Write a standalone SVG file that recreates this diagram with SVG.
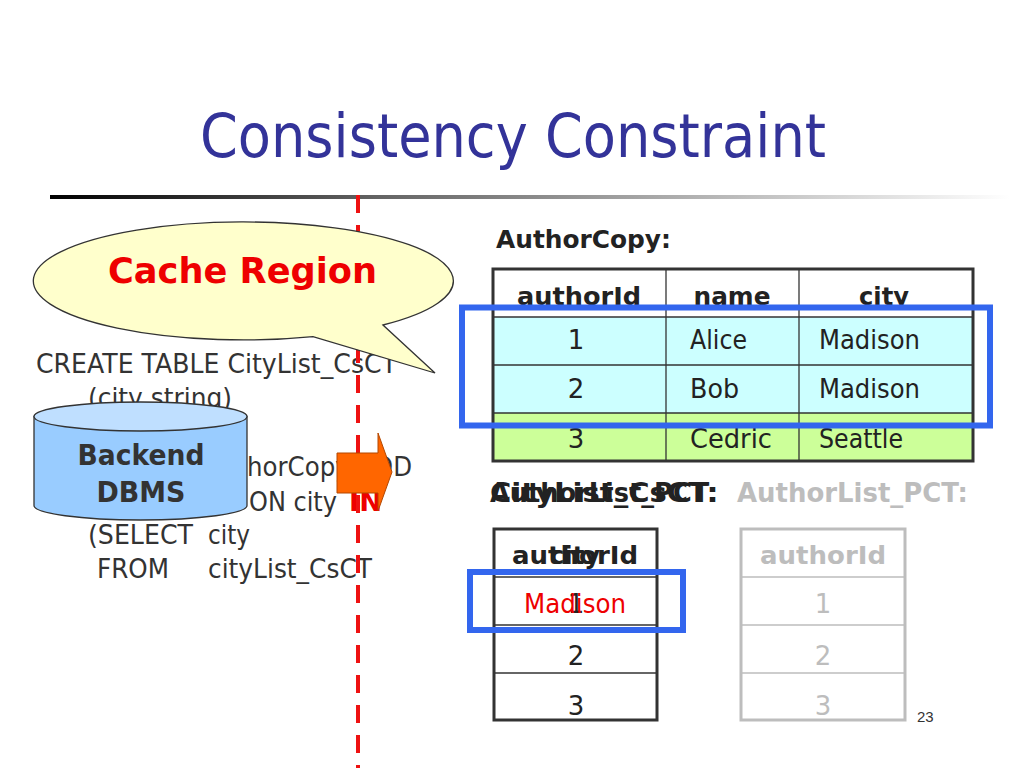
<svg xmlns="http://www.w3.org/2000/svg" width="1024" height="768" viewBox="0 0 1024 768">
<defs>
<linearGradient id="bar" x1="0" y1="0" x2="1" y2="0">
<stop offset="0" stop-color="#000"/>
<stop offset="0.35" stop-color="#666"/>
<stop offset="1" stop-color="#fff"/>
</linearGradient>
<style>
text{font-family:"DejaVu Sans","Liberation Sans",sans-serif;}
.t{font-size:60px;fill:#333399;}
.code{font-size:26px;fill:#333;}
.b{font-weight:bold;}
.hd{font-size:25px;font-weight:bold;fill:#222;text-anchor:middle;}
.cell{font-size:26px;fill:#222;}
.mid{text-anchor:middle;}
.gray{fill:#bdbdbd;}
.outer{fill:none;stroke:#333;stroke-width:3;}
.inner{stroke:#333;stroke-width:1.3;fill:none;}
.gouter{fill:none;stroke:#bdbdbd;stroke-width:3;}
.ginner{stroke:#bdbdbd;stroke-width:1.3;fill:none;}
.sel{fill:none;stroke:#3366ee;stroke-width:6;}
</style>
</defs>
<rect width="1024" height="768" fill="#fff"/>

<g id="title">
<text class="t" x="200" y="157" textLength="626" lengthAdjust="spacingAndGlyphs">Consistency Constraint</text>
<rect x="50" y="195" width="960" height="4" fill="url(#bar)"/>
</g>

<g id="sql-code">
<text class="code" x="36" y="373" textLength="361" lengthAdjust="spacingAndGlyphs">CREATE TABLE CityList_CsCT</text>
<text class="code" x="88" y="407" textLength="144" lengthAdjust="spacingAndGlyphs">(city string)</text>
<text class="code" x="247" y="476" textLength="165" lengthAdjust="spacingAndGlyphs">horCopy ADD</text>
<text class="code" x="249" y="511" textLength="88" lengthAdjust="spacingAndGlyphs">ON city</text>
<text class="code b" x="349" y="511" fill="#ee0000" style="fill:#ee0000" textLength="33" lengthAdjust="spacingAndGlyphs">IN</text>
<text class="code" x="88" y="544" textLength="105" lengthAdjust="spacingAndGlyphs">(SELECT</text>
<text class="code" x="208" y="544" textLength="42" lengthAdjust="spacingAndGlyphs">city</text>
<text class="code" x="97" y="578" textLength="72" lengthAdjust="spacingAndGlyphs">FROM</text>
<text class="code" x="208" y="578" textLength="164" lengthAdjust="spacingAndGlyphs">cityList_CsCT</text>
</g>

<g id="divider">
<line x1="358" y1="195" x2="358" y2="768" stroke="#ee1111" stroke-width="4" stroke-dasharray="18 12"/>
</g>

<g id="cache-region-bubble">
<path d="M313,336.6 A210 59 0 1 1 383,325 L435,373 Z" fill="#ffffcc" stroke="#333" stroke-width="1.3"/>
<text x="108" y="283" font-size="36" font-weight="bold" fill="#ee0000" textLength="269" lengthAdjust="spacingAndGlyphs">Cache Region</text>
</g>

<g id="backend-dbms">
<path d="M34,416.5 L34,505.5 A106.5 14.5 0 0 0 247,505.5 L247,416.5 Z" fill="#99ccff" stroke="#333" stroke-width="1.3"/>
<ellipse cx="140.5" cy="416.5" rx="106.5" ry="14.5" fill="#bfdfff" stroke="#333" stroke-width="1.3"/>
<text class="b mid" x="141" y="465" font-size="28" fill="#333" textLength="127" lengthAdjust="spacingAndGlyphs">Backend</text>
<text class="b mid" x="141" y="502" font-size="28" fill="#333" textLength="89" lengthAdjust="spacingAndGlyphs">DBMS</text>
</g>

<g id="connectors">
<polygon points="337,453 378,453 378,433 392,472 378,511 378,493 337,493" fill="#ff6600" stroke="#b34700" stroke-width="1"/>
</g>

<g id="authorcopy-table">
<text class="b" x="496" y="248" font-size="24" fill="#222" textLength="175" lengthAdjust="spacingAndGlyphs">AuthorCopy:</text>
<rect x="493" y="269" width="480" height="48" fill="#fff"/>
<rect x="493" y="317" width="480" height="96" fill="#ccffff"/>
<rect x="493" y="413" width="480" height="48" fill="#ccff99"/>
<line class="inner" x1="666" y1="269" x2="666" y2="461"/>
<line class="inner" x1="799" y1="269" x2="799" y2="461"/>
<line class="inner" x1="493" y1="317" x2="973" y2="317"/>
<line class="inner" x1="493" y1="365" x2="973" y2="365"/>
<line class="inner" x1="493" y1="413" x2="973" y2="413"/>
<rect class="outer" x="493" y="269" width="480" height="192"/>
<text class="hd" x="579" y="305" textLength="124" lengthAdjust="spacingAndGlyphs">authorId</text>
<text class="hd" x="732" y="305" textLength="77" lengthAdjust="spacingAndGlyphs">name</text>
<text class="hd" x="884" y="305" textLength="50" lengthAdjust="spacingAndGlyphs">city</text>
<text class="cell mid" x="576" y="349">1</text>
<text class="cell" x="690" y="349" textLength="57" lengthAdjust="spacingAndGlyphs">Alice</text>
<text class="cell" x="819" y="349" textLength="101" lengthAdjust="spacingAndGlyphs">Madison</text>
<text class="cell mid" x="576" y="398">2</text>
<text class="cell" x="690" y="398" textLength="49" lengthAdjust="spacingAndGlyphs">Bob</text>
<text class="cell" x="819" y="398" textLength="101" lengthAdjust="spacingAndGlyphs">Madison</text>
<text class="cell mid" x="576" y="448">3</text>
<text class="cell" x="690" y="448" textLength="82" lengthAdjust="spacingAndGlyphs">Cedric</text>
<text class="cell" x="819" y="448" textLength="84" lengthAdjust="spacingAndGlyphs">Seattle</text>
<rect class="sel" x="462" y="307.5" width="528" height="118"/>
</g>

<g id="citylist-table">
<text class="b" x="490" y="502" font-size="26" fill="#222" textLength="228" lengthAdjust="spacingAndGlyphs">AuthorList_PCT:</text>
<text class="b" x="490" y="502" font-size="26" fill="#222" textLength="228" lengthAdjust="spacingAndGlyphs">CityList_CsCT:</text>
<rect x="494" y="529" width="163" height="191" fill="#fff"/>
<line class="inner" x1="494" y1="577" x2="657" y2="577"/>
<line class="inner" x1="494" y1="625" x2="657" y2="625"/>
<line class="inner" x1="494" y1="673" x2="657" y2="673"/>
<rect class="outer" x="494" y="529" width="163" height="191"/>
<text class="hd" x="575" y="564" textLength="126" lengthAdjust="spacingAndGlyphs">authorId</text>
<text class="hd" x="575" y="564" textLength="50" lengthAdjust="spacingAndGlyphs">city</text>
<text class="cell mid" x="576" y="613">1</text>
<text class="cell mid" x="575" y="613" style="fill:#ee0000" textLength="102" lengthAdjust="spacingAndGlyphs">Madison</text>
<text class="cell mid" x="576" y="665">2</text>
<text class="cell mid" x="576" y="715">3</text>
<rect class="sel" x="470" y="572" width="213" height="58"/>
</g>

<g id="authorlist-pct-table">
<text class="b gray" x="737" y="502" font-size="26" textLength="231" lengthAdjust="spacingAndGlyphs">AuthorList_PCT:</text>
<line class="ginner" x1="741" y1="577" x2="905" y2="577"/>
<line class="ginner" x1="741" y1="625" x2="905" y2="625"/>
<line class="ginner" x1="741" y1="673" x2="905" y2="673"/>
<rect class="gouter" x="741" y="529" width="164" height="191"/>
<text class="hd gray" x="823" y="564" textLength="126" lengthAdjust="spacingAndGlyphs">authorId</text>
<text class="cell mid gray" x="823" y="613">1</text>
<text class="cell mid gray" x="823" y="665">2</text>
<text class="cell mid gray" x="823" y="715">3</text>
</g>

<g id="page-number">
<text x="917" y="722" font-size="15" fill="#333" style="font-family:'Liberation Sans',Arial,sans-serif">23</text>
</g>
</svg>
